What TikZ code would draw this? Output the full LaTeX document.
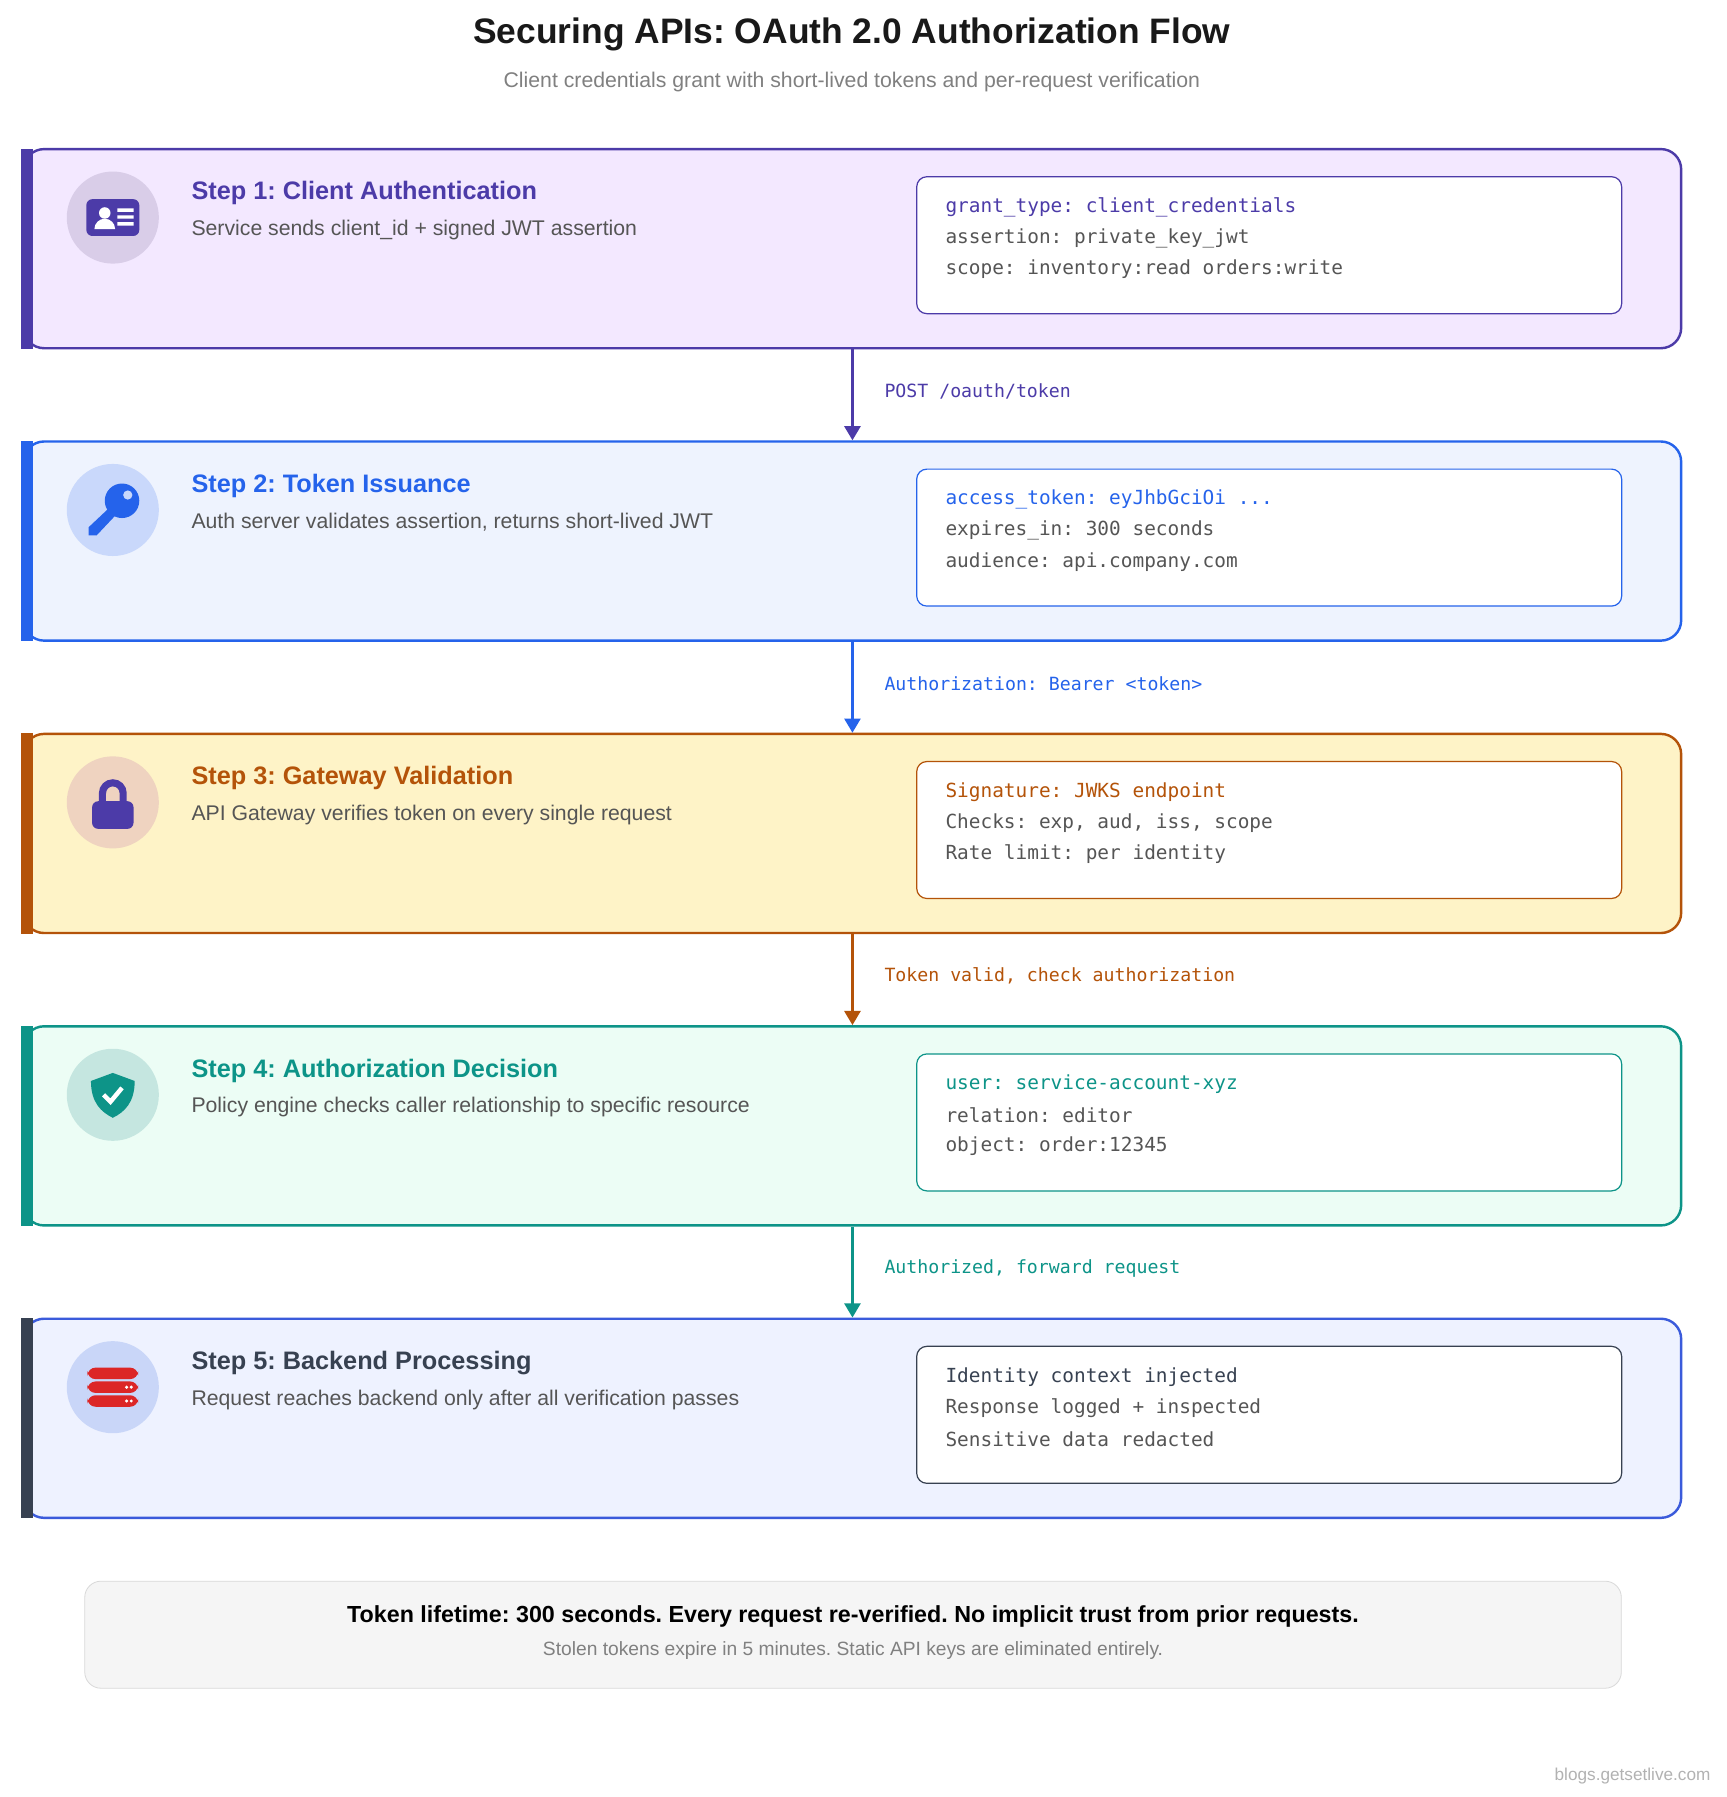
\documentclass[tikz,border=0pt]{standalone}
\usepackage{fontspec}
\setmainfont{Liberation Sans}
\setmonofont{DejaVu Sans Mono}
\usetikzlibrary{positioning,arrows.meta}
\frenchspacing
\definecolor{cA}{HTML}{4C3BA8}\definecolor{fA}{HTML}{F3E8FF}\definecolor{iA}{HTML}{D9CDE8}
\definecolor{cB}{HTML}{2563EB}\definecolor{fB}{HTML}{EEF3FE}\definecolor{iB}{HTML}{C9D8FB}
\definecolor{cC}{HTML}{B45309}\definecolor{fC}{HTML}{FEF3C7}\definecolor{iC}{HTML}{EFD3C0}
\definecolor{cD}{HTML}{0D9488}\definecolor{fD}{HTML}{ECFDF5}\definecolor{iD}{HTML}{C5E6E0}
\definecolor{cE}{HTML}{374151}\definecolor{fE}{HTML}{EEF2FF}\definecolor{iE}{HTML}{C9D6F8}
\definecolor{bE}{HTML}{3B5BDB}\definecolor{txt}{HTML}{555555}\definecolor{srv}{HTML}{DC2626}
\tikzset{
	stepbox/.style={rectangle, rounded corners=10, minimum width=28.8cm, minimum height=3.46cm, line width=1.2pt},
	codebox/.style={rectangle, rounded corners=5, draw, fill=white, minimum width=12.25cm, minimum height=2.38cm, line width=0.6pt},
	iconbg/.style={circle, minimum size=1.6cm, inner sep=0},
	steptitle/.style={anchor=west, inner sep=0, font=\fontsize{12.5}{14}\selectfont\bfseries},
	stepdesc/.style={anchor=west, inner sep=0, font=\fontsize{10.5}{12}\selectfont, text=txt},
	codeline/.style={anchor=west, inner sep=0, font=\ttfamily\fontsize{9.6}{11}\selectfont, text=txt},
	flowlabel/.style={anchor=west, inner sep=0, font=\ttfamily\fontsize{9}{11}\selectfont},
	flow/.style={-{Triangle[length=7pt,width=8pt]}, line width=1.1pt}
}
\begin{document}
\begin{tikzpicture}[x=0.02cm, y=-0.02cm]
		\useasboundingbox[fill=white] (0,0) rectangle (1500,1561);
		
		%title
		\node[font=\fontsize{17.5}{20}\selectfont\bfseries, text=black!90] (title) at (740,30) {Securing APIs: OAuth 2.0 Authorization Flow};
		\node[font=\fontsize{10.5}{12}\selectfont, text=black!50] (subtitle) at (740,71) {Client credentials grant with short-lived tokens and per-request verification};
		
		%step boxes
		\node[stepbox, draw=cA, fill=fA] at (740.5,216) (s1) {};
		\node[stepbox, draw=cB, fill=fB] at (740.5,470) (s2) {};
		\node[stepbox, draw=cC, fill=fC] at (740.5,724) (s3) {};
		\node[stepbox, draw=cD, fill=fD] at (740.5,978) (s4) {};
		\node[stepbox, draw=bE, fill=fE] at (740.5,1232) (s5) {};
		\fill[cA] (18,129) rectangle (29,303);
		\fill[cB] (18,383) rectangle (29,557);
		\fill[cC] (18,637) rectangle (29,811);
		\fill[cD] (18,891) rectangle (29,1065);
		\fill[cE] (18,1145) rectangle (29,1319);
		
		%icons
		\node[iconbg, fill=iA] at (98,189) (i1) {};
		\fill[cA, rounded corners=3] (75,173) rectangle (121,205);
		\fill[white] (91,185) circle (5);
		\fill[white] (82,199) arc (180:360:9) -- cycle;
		\fill[white] (102,181) rectangle (116,184) (102,187) rectangle (116,190) (102,193) rectangle (116,196);
		\node[iconbg, fill=iB] at (98,443) (i2) {};
		\fill[cB] (106,435) circle (15);
		\fill[iB] (111,430) circle (4);
		\fill[cB] (94,442) -- (100,448) -- (84,465) -- (77,465) -- (77,458) -- cycle;
		\node[iconbg, fill=iC] at (98,697) (i3) {};
		\draw[cA, line width=3.5pt] (89,698) -- (89,689) arc (180:360:9) -- (107,698);
		\fill[cA, rounded corners=3] (80,696) rectangle (116,720);
		\node[iconbg, fill=iD] at (98,951) (i4) {};
		\fill[cD] (98,932) -- (117,939) .. controls (117,958) and (108,966) .. (98,971) .. controls (88,966) and (79,958) .. (79,939) -- cycle;
		\draw[white, line width=2.2pt] (90,951) -- (96,957) -- (106,945);
		\node[iconbg, fill=iE] at (98,1205) (i5) {};
		\foreach \yy in {1188,1200,1212}
			\fill[srv, rounded corners=4] (76,\yy) rectangle (120,\yy+10);
		\fill[white] (110,1205) circle (1.5) (114,1205) circle (1.5) (110,1217) circle (1.5) (114,1217) circle (1.5);
		
		%texts
		\node[steptitle, text=cA] at (166,168) (t1) {Step 1: Client Authentication};
		\node[stepdesc] at (166,200) (d1) {Service sends client\_id + signed JWT assertion};
		\node[steptitle, text=cB] at (166,422) (t2) {Step 2: Token Issuance};
		\node[stepdesc] at (166,454) (d2) {Auth server validates assertion, returns short-lived JWT};
		\node[steptitle, text=cC] at (166,676) (t3) {Step 3: Gateway Validation};
		\node[stepdesc] at (166,708) (d3) {API Gateway verifies token on every single request};
		\node[steptitle, text=cD] at (166,930) (t4) {Step 4: Authorization Decision};
		\node[stepdesc] at (166,962) (d4) {Policy engine checks caller relationship to specific resource};
		\node[steptitle, text=cE] at (166,1184) (t5) {Step 5: Backend Processing};
		\node[stepdesc] at (166,1216) (d5) {Request reaches backend only after all verification passes};
		
		%code boxes
		\node[codebox, draw=cA] at (1102.5,213) (c1) {};
		\node[codeline, text=cA] at (821,180) {grant\_type: client\_credentials};
		\node[codeline] at (821,207) {assertion: private\_key\_jwt};
		\node[codeline] at (821,234) {scope: inventory:read orders:write};
		\node[codebox, draw=cB] at (1102.5,467) (c2) {};
		\node[codeline, text=cB] at (821,434) {access\_token: eyJhbGciOi ...};
		\node[codeline] at (821,461) {expires\_in: 300 seconds};
		\node[codeline] at (821,488) {audience: api.company.com};
		\node[codebox, draw=cC] at (1102.5,721) (c3) {};
		\node[codeline, text=cC] at (821,688) {Signature: JWKS endpoint};
		\node[codeline] at (821,715) {Checks: exp, aud, iss, scope};
		\node[codeline] at (821,742) {Rate limit: per identity};
		\node[codebox, draw=cD] at (1102.5,975) (c4) {};
		\node[codeline, text=cD] at (821,942) {user: service-account-xyz};
		\node[codeline] at (821,969) {relation: editor};
		\node[codeline] at (821,996) {object: order:12345};
		\node[codebox, draw=cE] at (1102.5,1229) (c5) {};
		\node[codeline, text=cE] at (821,1196) {Identity context injected};
		\node[codeline] at (821,1223) {Response logged + inspected};
		\node[codeline] at (821,1250) {Sensitive data redacted};
		
		%Lines
		\draw[flow, cA] (s1.south) -- (s2.north);
		\draw[flow, cB] (s2.south) -- (s3.north);
		\draw[flow, cC] (s3.south) -- (s4.north);
		\draw[flow, cD] (s4.south) -- (s5.north);
		\node[flowlabel, text=cA] at (768,340) (l1) {POST /oauth/token};
		\node[flowlabel, text=cB] at (768,594) (l2) {Authorization: Bearer <token>};
		\node[flowlabel, text=cC] at (768,848) (l3) {Token valid, check authorization};
		\node[flowlabel, text=cD] at (768,1102) (l4) {Authorized, forward request};
		
		%footer
		\node[rectangle, rounded corners=8, draw=black!15, fill=black!4, minimum width=26.7cm, minimum height=1.86cm] at (741,1420) (foot) {};
		\node[font=\fontsize{11.5}{13}\selectfont\bfseries] at (741,1404) (f1) {Token lifetime: 300 seconds. Every request re-verified. No implicit trust from prior requests.};
		\node[font=\fontsize{9.5}{11}\selectfont, text=black!50] at (741,1434) (f2) {Stolen tokens expire in 5 minutes. Static API keys are eliminated entirely.};
		\node[anchor=east, font=\fontsize{8.5}{10}\selectfont, text=black!30] at (1492,1543) (wm) {blogs.getsetlive.com};
	\end{tikzpicture}
\end{document}
